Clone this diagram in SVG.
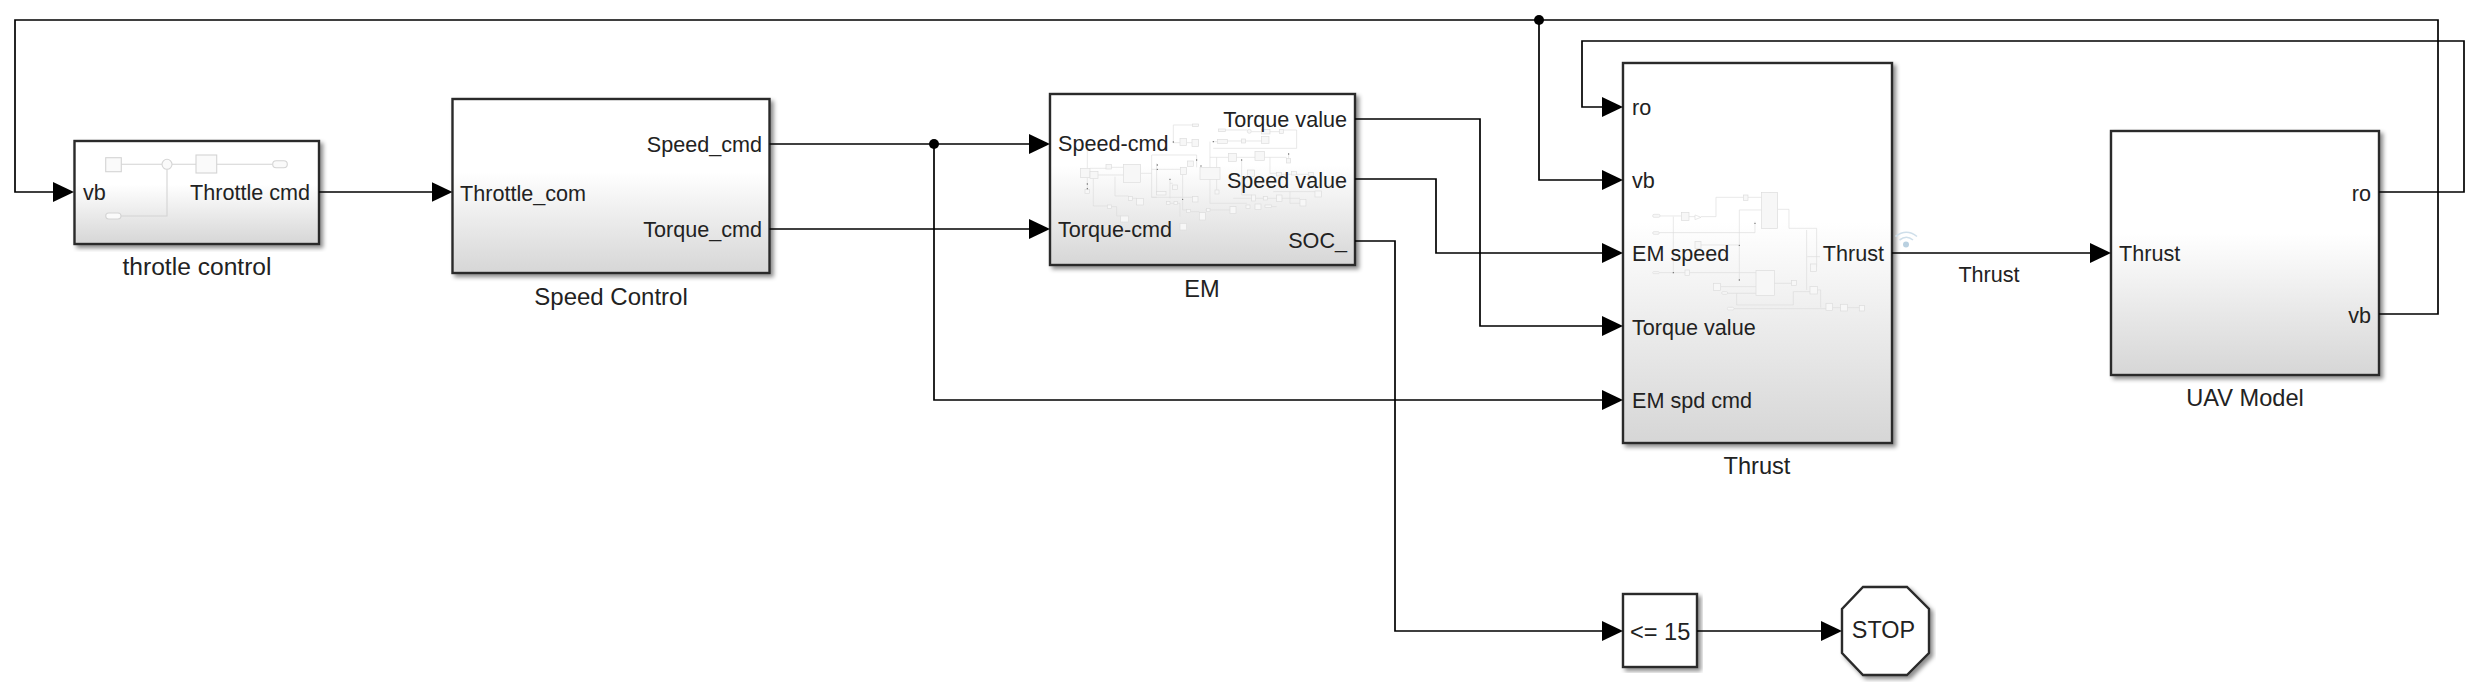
<svg xmlns="http://www.w3.org/2000/svg" width="2477" height="693" viewBox="0 0 2477 693">
<style>
text{font-family:"Liberation Sans",Arial,sans-serif;font-size:21.6px;fill:#222}
.cap{font-size:23.6px;text-anchor:middle}
.end{text-anchor:end}
.blk{fill:url(#g);stroke:#2b2b2b;stroke-width:2.4;filter:url(#sh)}
.plain{fill:#fff;stroke:#2b2b2b;stroke-width:2.4;filter:url(#sh)}
.w{fill:none;stroke:#000;stroke-width:1.7;marker-end:url(#a)}
.t path,.t rect,.t circle{fill:none;stroke:#dcdcdc;stroke-width:2}
.t rect,.t circle{fill:#f7f7f7}
.t .d{fill:#666;stroke:none}
.t1 path,.t1 rect,.t1 circle{fill:none;stroke:#d4d4d4;stroke-width:1.1}
.t1 rect,.t1 circle{fill:#fafafa}
</style>
<defs>
<linearGradient id="g" x1="0" y1="0" x2="0" y2="1"><stop offset="0" stop-color="#fff"/><stop offset=".42" stop-color="#fff"/><stop offset="1" stop-color="#d6d6d6"/></linearGradient>
<filter id="sh" x="-5%" y="-5%" width="112%" height="112%"><feDropShadow dx="3" dy="3" stdDeviation="2" flood-color="#000" flood-opacity=".45"/></filter>
<marker id="a" markerUnits="userSpaceOnUse" markerWidth="21" markerHeight="21" viewBox="0 0 21 21" refX="17" refY="10.500" orient="auto"><polygon points="0,0.500 21,10.500 0,20.500" fill="#000"/></marker>
</defs>
<rect width="2477" height="693" fill="#fff"/>
<g id="throttle-control">
<rect class="blk" x="74.5" y="141" width="244.5" height="103"/>
<g class="t1">
<path d="M121 164.3H162M172 164.3H196M216.7 164.3H272.7M167 169.3V216H121"/>
<rect x="105.7" y="157.7" width="15.6" height="14"/>
<circle cx="167" cy="164.3" r="5"/>
<rect x="196" y="155" width="20.7" height="18"/>
<rect x="272.7" y="160.7" width="14.6" height="7" rx="3.5"/>
<rect x="105.7" y="213" width="15.3" height="6" rx="3"/>
</g>
<text x="83" y="200">vb</text>
<text class="end" x="310" y="200">Throttle cmd</text>
<text class="cap" x="197" y="275" style="font-size:24.6px">throtle control</text>
</g>
<g id="speed-control">
<rect class="blk" x="452.5" y="99" width="317" height="174"/>
<text x="460" y="201">Throttle_com</text>
<text class="end" x="762" y="152">Speed_cmd</text>
<text class="end" x="762" y="237">Torque_cmd</text>
<text class="cap" x="611" y="305" style="font-size:24px">Speed Control</text>
</g>
<g id="em">
<rect class="blk" x="1050" y="94" width="305" height="171"/>
<g class="t" transform="translate(1000 80) scale(.3333)">
<path d="M262 205V265M270 265H318M334 262H370M294 285H370M262 293V328M280 295V378H322M345 290V348H385M397 355H410M334 380H350V408H362M422 280H455M455 225V352H470M455 225H590M455 268H540M455 352H578M470 250V340M510 295V355M510 310H518M548 285V390H560M590 225V262M520 188H540M520 135V188M520 135H578M560 188H576M630 185V370H740M638 185H652M682 183H725M737 183H785M640 205H890V150H850M677 150H742M754 155H785M810 155H838M630 232H685M709 232H765M793 232H860M866 220V235M810 232V280H830M845 283H875M890 283H925M650 232V330M725 240V345H755M572 395H598M616 390H690M540 440H560M510 370H540V410M700 355H900M802 380H830M870 335V370H900M820 335H945"/>
<rect x="242" y="265" width="28" height="28"/><rect x="270" y="275" width="24" height="20"/><rect x="370" y="253" width="52" height="54"/><rect x="318" y="253" width="16" height="14"/><rect x="255" y="328" width="14" height="12"/><rect x="540" y="175" width="20" height="22"/><rect x="576" y="178" width="20" height="22"/><rect x="578" y="132" width="18" height="8"/><rect x="652" y="178" width="30" height="12"/><rect x="725" y="177" width="12" height="12"/><rect x="785" y="170" width="22" height="20"/><rect x="655" y="147" width="22" height="8"/><circle cx="748" cy="154" r="6"/><rect x="785" y="148" width="25" height="14"/><rect x="838" y="148" width="12" height="12"/><rect x="685" y="220" width="24" height="24"/><rect x="765" y="215" width="28" height="26"/><rect x="860" y="235" width="12" height="14"/><rect x="600" y="262" width="60" height="36"/><rect x="542" y="262" width="18" height="22"/><rect x="562" y="243" width="18" height="16"/><rect x="470" y="335" width="28" height="10"/><rect x="518" y="315" width="14" height="14"/><rect x="410" y="355" width="20" height="20"/><rect x="385" y="350" width="12" height="12"/><rect x="322" y="375" width="12" height="10"/><rect x="362" y="408" width="24" height="18"/><rect x="500" y="365" width="10" height="8"/><rect x="522" y="365" width="10" height="8"/><rect x="578" y="350" width="16" height="16"/><rect x="560" y="388" width="12" height="10"/><rect x="598" y="398" width="18" height="22"/><rect x="620" y="385" width="10" height="10"/><rect x="690" y="380" width="18" height="20"/><rect x="540" y="430" width="20" height="20"/><rect x="755" y="345" width="12" height="18"/><rect x="790" y="350" width="12" height="10"/><rect x="830" y="345" width="16" height="20"/><rect x="900" y="358" width="18" height="20"/><rect x="945" y="333" width="20" height="18"/><rect x="738" y="375" width="12" height="10"/><rect x="765" y="372" width="18" height="16"/><rect x="795" y="375" width="20" height="8"/><rect x="645" y="330" width="12" height="12"/><rect x="742" y="270" width="22" height="20"/><rect x="830" y="278" width="15" height="10"/><rect x="875" y="275" width="15" height="10"/><rect x="925" y="278" width="15" height="10"/>
<circle class="d" cx="262" cy="312" r="2"/><circle class="d" cx="262" cy="326" r="2"/><circle class="d" cx="472" cy="255" r="2"/><circle class="d" cx="472" cy="268" r="2"/><circle class="d" cx="510" cy="298" r="2"/><circle class="d" cx="548" cy="358" r="2"/><circle class="d" cx="590" cy="240" r="2"/><circle class="d" cx="603" cy="258" r="2"/><circle class="d" cx="640" cy="185" r="2"/><circle class="d" cx="725" cy="240" r="2"/><circle class="d" cx="866" cy="222" r="2"/><circle class="d" cx="520" cy="186" r="2"/>
</g>
<text x="1058" y="151">Speed-cmd</text>
<text x="1058" y="237">Torque-cmd</text>
<text class="end" x="1347" y="127">Torque value</text>
<text class="end" x="1347" y="188">Speed value</text>
<text class="end" x="1347" y="248">SOC_</text>
<text class="cap" x="1202" y="297">EM</text>
</g>
<g id="thrust">
<rect class="blk" x="1623" y="63" width="269" height="380"/>
<g class="t" transform="translate(1580 40) scale(.3333)">
<path d="M240 528H305M327 530H345M363 530H408V472H490M504 472H545M238 578H525V545M478 510H545M478 510V720M363 615H478M280 530V700M593 508H627V565H710V680M680 570V750M238 698H315M329 698H528M583 730H635M422 740H528M443 760H528M470 760V795H640V755H690M462 806H738M758 803H782M802 803H838M712 750H722V803M682 650H720M570 458V566"/>
<rect x="218" y="523" width="22" height="9" rx="4"/><rect x="305" y="518" width="22" height="24"/><path d="M345 525L363 532L345 539Z"/><rect x="490" y="465" width="14" height="16"/><rect x="545" y="458" width="48" height="108"/><rect x="218" y="575" width="20" height="8" rx="4"/><rect x="345" y="605" width="18" height="20"/><rect x="218" y="695" width="20" height="6" rx="3"/><rect x="315" y="690" width="14" height="16"/><rect x="528" y="692" width="55" height="75"/><rect x="635" y="722" width="14" height="14"/><rect x="400" y="730" width="22" height="22"/><rect x="425" y="755" width="18" height="8" rx="4"/><rect x="690" y="740" width="22" height="22"/><rect x="442" y="802" width="20" height="8" rx="4"/><rect x="738" y="790" width="20" height="22"/><rect x="782" y="793" width="20" height="20"/><rect x="838" y="797" width="16" height="16"/><rect x="692" y="672" width="18" height="22"/>
<circle class="d" cx="525" cy="550" r="2"/><circle class="d" cx="478" cy="616" r="2"/><circle class="d" cx="478" cy="720" r="2"/><circle class="d" cx="280" cy="698" r="2"/>
</g>
<text x="1632" y="115">ro</text>
<text x="1632" y="188">vb</text>
<text x="1632" y="261">EM speed</text>
<text x="1632" y="335">Torque value</text>
<text x="1632" y="408">EM spd cmd</text>
<text class="end" x="1884" y="261">Thrust</text>
<text class="cap" x="1757" y="474">Thrust</text>
<g fill="none" stroke="#cfdfea" stroke-width="1.6"><path d="M1895.500 236.500Q1906.500 228 1917 236.500"/><path d="M1899.500 240Q1906.500 234.500 1913 240"/></g>
<circle cx="1906" cy="244.500" r="3" fill="#b9d0e0"/>
</g>
<g id="uav-model">
<rect class="blk" x="2111" y="131" width="268" height="244"/>
<text x="2119" y="261">Thrust</text>
<text class="end" x="2371" y="201">ro</text>
<text class="end" x="2371" y="323">vb</text>
<text class="cap" x="2245" y="406">UAV Model</text>
</g>
<g id="compare">
<rect class="plain" x="1623" y="594" width="74" height="73"/>
<text x="1630" y="640" style="font-size:23.6px">&lt;= 15</text>
</g>
<g id="stop">
<polygon class="plain" points="1863,587 1907,587 1929,609 1929,653 1907,675 1863,675 1842,653 1842,609"/>
<text x="1883.500" y="638" text-anchor="middle" style="font-size:23.400px">STOP</text>
</g>
<g id="connectors">
<path class="w" d="M2379 314H2438V20H15V192H70"/>
<path class="w" d="M1539 20V180H1619"/>
<path class="w" d="M2379 192H2464V41H1582V107H1619"/>
<path class="w" d="M319 192H448.500"/>
<path class="w" d="M769.500 144H1046"/>
<path class="w" d="M769.500 229H1046"/>
<path class="w" d="M934 144V400H1619"/>
<path class="w" d="M1355 119H1480V326H1619"/>
<path class="w" d="M1355 179H1436V253H1619"/>
<path class="w" d="M1355 241H1395V631H1619"/>
<path class="w" d="M1892 253H2107"/>
<path class="w" d="M1697 631H1838"/>
<circle cx="934" cy="144" r="5" fill="#000"/>
<circle cx="1539" cy="20" r="5" fill="#000"/>
<text x="1989" y="282" text-anchor="middle">Thrust</text>
</g>
</svg>
